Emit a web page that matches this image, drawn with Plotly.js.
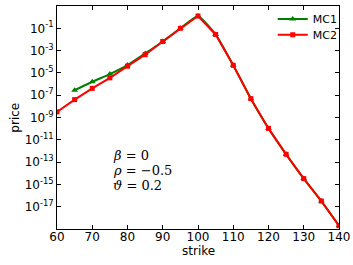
<!DOCTYPE html>
<html><head><meta charset="utf-8">
<script src="https://cdn.plot.ly/plotly-3.0.1.min.js"></script>
<style>html,body{margin:0;padding:0;background:#fff}#chart{width:353px;height:265px}</style>
</head><body><div id="chart"></div>
<script>
const strikesMC1 = [65,70,75,80,85,90,95,100,105,110,115,120,125,130,135,140];
const pricesMC1 = [2.8e-7,1.6e-6,7.9e-6,5.0e-5,5.6e-4,6.6e-3,0.1,1.26,2.8e-2,4.8e-5,4.9e-8,1.05e-10,5e-13,3.3e-15,3.2e-17,2.0e-19];
const strikesMC2 = [60,65,70,75,80,85,90,95,100,105,110,115,120,125,130,135,140];
const pricesMC2 = [3.2e-9,4.0e-8,4.1e-7,3.6e-6,4.0e-5,4.3e-4,6.6e-3,0.1,1.26,2.8e-2,4.8e-5,4.9e-8,1.05e-10,5e-13,3.3e-15,3.2e-17,2.0e-19];
const xTicks = [60,70,80,90,100,110,120,130,140];
const yTicks = [1e-17,1e-15,1e-13,1e-11,1e-9,1e-7,1e-5,1e-3,1e-1];
const yTickText = ['10<sup>-17</sup>','10<sup>-15</sup>','10<sup>-13</sup>','10<sup>-11</sup>','10<sup>-9</sup>','10<sup>-7</sup>','10<sup>-5</sup>','10<sup>-3</sup>','10<sup>-1</sup>'];
const params = ['<i>β</i> = 0','<i>ρ</i> = −0.5','<i>ϑ</i> = 0.2'];

const traces = [
  {x: strikesMC1, y: pricesMC1, name: 'MC1', mode: 'lines+markers', legend: 'legend',
   line: {color: '#008000', width: 2, shape: 'spline', smoothing: 0.4},
   marker: {symbol: 'triangle-up', size: 6, color: '#008000'}},
  {x: strikesMC2, y: pricesMC2, name: 'MC2', mode: 'lines+markers', legend: 'legend2',
   line: {color: '#ff0000', width: 2},
   marker: {symbol: 'square', size: 5, color: '#ff0000'}}
];
const font = {family: 'DejaVu Sans', size: 12, color: '#000'};
const legFont = {family: 'DejaVu Sans', size: 11, color: '#000'};
const layout = {
  width: 353, height: 265,
  margin: {l: 57, r: 14, t: 4, b: 36},
  paper_bgcolor: '#fff', plot_bgcolor: '#fff',
  font: font,
  showlegend: true,
  legend: {x: 0.765, y: 0.942, xanchor: 'left', yanchor: 'middle', bgcolor: 'rgba(0,0,0,0)',
           font: legFont, itemwidth: 30},
  legend2: {x: 0.765, y: 0.871, xanchor: 'left', yanchor: 'middle', bgcolor: 'rgba(0,0,0,0)',
           font: legFont, itemwidth: 30},
  xaxis: {range: [60,140], tickvals: xTicks, ticktext: xTicks.map(String), ticklabelstandoff: -3,
          ticks: 'inside', ticklen: 4, tickcolor: '#000', showline: true, linecolor: '#000',
          linewidth: 1, mirror: 'ticks', showgrid: false, zeroline: false},
  yaxis: {type: 'log', range: [-19, 1], tickvals: yTicks, ticktext: yTickText,
          ticks: 'inside', ticklen: 4, tickcolor: '#000', showline: true, linecolor: '#000',
          linewidth: 1, mirror: 'ticks', showgrid: false, zeroline: false},
  annotations: params.map((t, i) => ({
    text: t, xref: 'paper', yref: 'paper', x: 0.19, y: 0.33 - i*0.068,
    xanchor: 'left', yanchor: 'middle', showarrow: false,
    font: {family: 'DejaVu Serif', size: 13, color: '#000'}
  })).concat([
    {text: 'strike', xref: 'paper', yref: 'paper', x: 0.5, y: -0.1, xanchor: 'center', yanchor: 'middle',
     showarrow: false, font: font},
    {text: 'price', xref: 'paper', yref: 'paper', x: -0.152, y: 0.5, xanchor: 'center', yanchor: 'middle',
     textangle: -90, showarrow: false, font: font}
  ])
};
Plotly.newPlot('chart', traces, layout, {displayModeBar: false, staticPlot: true});
</script></body></html>
